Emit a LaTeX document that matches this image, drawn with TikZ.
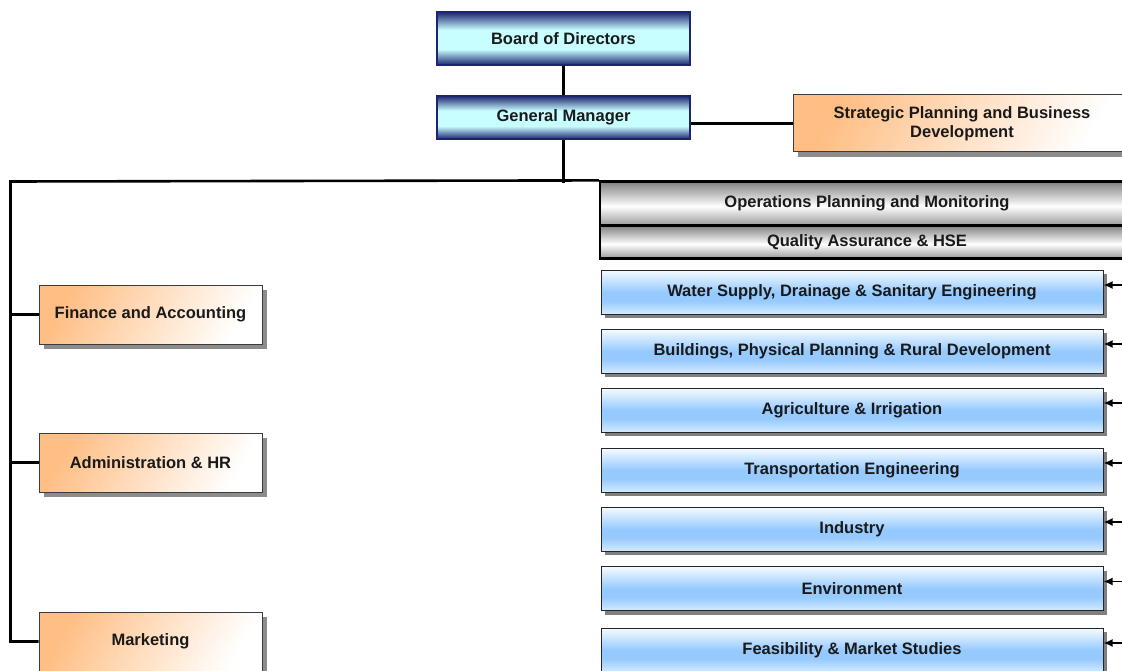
\documentclass[tikz,border=0pt]{standalone}
\usepackage{fontspec}
\setmainfont{Liberation Sans}
\usetikzlibrary{arrows.meta,shadows}
\definecolor{navyd}{HTML}{1C2570}
\definecolor{cyanl}{HTML}{C8FEFF}
\definecolor{blued}{HTML}{96CAFF}
\definecolor{bluel}{HTML}{F6FBFF}
\definecolor{bluem}{HTML}{D4EAFF}
\definecolor{orng}{HTML}{FFBE84}
\definecolor{edge}{HTML}{3C3C3C}
\definecolor{txt}{HTML}{1A1A1A}
\pgfdeclareverticalshading{navybar}{100bp}{color(0bp)=(navyd); color(25bp)=(navyd); color(40bp)=(cyanl); color(58bp)=(cyanl); color(75bp)=(navyd); color(100bp)=(navyd)}
\pgfdeclareverticalshading{greybar}{100bp}{color(0bp)=(black!45); color(25bp)=(black!40); color(47bp)=(white); color(75bp)=(black!50); color(100bp)=(black!50)}
\pgfdeclareverticalshading{bluebar}{100bp}{color(0bp)=(bluem); color(25bp)=(bluem); color(40bp)=(blued); color(50bp)=(blued); color(75bp)=(bluel); color(100bp)=(bluel)}
\begin{document}
\begin{tikzpicture}[x=1pt,y=-1pt,
 every node/.style={inner sep=0pt,align=center,text=txt,font=\fontsize{16.5}{19}\selectfont\bfseries},
 topbox/.style={draw=navyd,line width=1.2pt,shade,shading=navybar,minimum width=253pt},
 staffbox/.style={draw=edge,line width=1pt,top color=orng,bottom color=white,shading angle=60,
  drop shadow={shadow xshift=5pt,shadow yshift=-5pt,fill=black!45,opacity=1}},
 greybox/.style={draw=black,line width=2.2pt,shade,shading=greybar,minimum width=534pt},
 unitbox/.style={draw=black!85,line width=1pt,shade,shading=bluebar,minimum width=502pt,minimum height=44pt,
  drop shadow={shadow xshift=4pt,shadow yshift=-4pt,fill=black!50,opacity=1}},
 link/.style={black,line width=2.6pt},
 feed/.style={black,line width=1.8pt,-{Latex[length=9pt,width=8pt]}}]
 \useasboundingbox (0,0) rectangle (1122,671);
 \node [topbox,minimum height=53pt] (bod) at (563.5,38.5) {Board of Directors};
 \node [topbox,minimum height=43pt] (gm) at (563.5,117.5) {General Manager};
 \node [staffbox,minimum width=338pt,minimum height=57pt] (spbd) at (962,123.5) {Strategic Planning and Business\\Development};
 \node [greybox,minimum height=44pt] (opm) at (867,203.5) {Operations Planning and Monitoring};
 \node [greybox,minimum height=33pt] (qas) at (867,242) {Quality Assurance \& HSE};
 \node [unitbox] (wsd) at (852,292) {Water Supply, Drainage \& Sanitary Engineering};
 \node [unitbox] (bpr) at (852,351) {Buildings, Physical Planning \& Rural Development};
 \node [unitbox] (agi) at (852,410) {Agriculture \& Irrigation};
 \node [unitbox] (tre) at (852,470) {Transportation Engineering};
 \node [unitbox] (ind) at (852,529) {Industry};
 \node [unitbox] (env) at (852,588.5) {Environment};
 \node [unitbox] (fms) at (852,650) {Feasibility \& Market Studies};
 \node [staffbox,minimum width=223pt,minimum height=59pt] (fin) at (150.5,314.5) {Finance and Accounting};
 \node [staffbox,minimum width=223pt,minimum height=59pt] (adm) at (150.5,462.5) {Administration \& HR};
 \node [staffbox,minimum width=223pt,minimum height=59pt] (mkt) at (150.5,641.5) {Marketing};
 \coordinate (lft) at (10.5,181.5);
 \coordinate (rim) at (1135,0);
 \draw [link] (bod.south) -- (gm.north);
 \draw [link] (spbd.west) -- (spbd.west -| gm.east);
 \draw [link] (gm.south) -- ([yshift=-2pt]gm.south |- lft);
 \draw [link] (opm.north west) -- (lft) |- (mkt.west);
 \draw [link] (fin.west) -- (fin.west -| lft);
 \draw [link] (adm.west) -- (adm.west -| lft);
 \foreach \u in {wsd,bpr,agi,tre,ind,env,fms}
  \draw [feed] ([yshift=7pt]\u.east -| rim) -- ([yshift=7pt]\u.east);
\end{tikzpicture}
\end{document}
